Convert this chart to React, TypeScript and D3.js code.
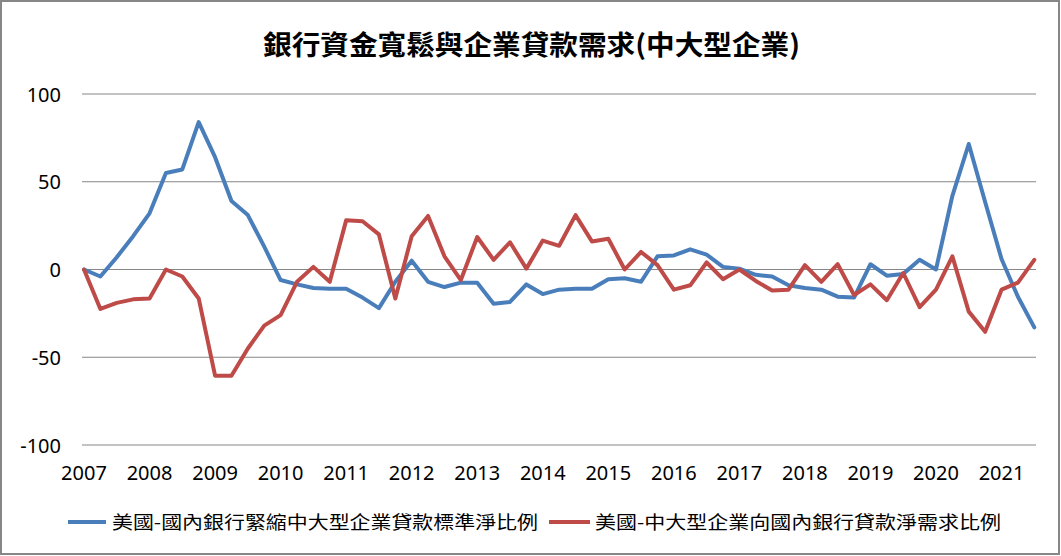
import React from "react";
import * as d3 from "d3";

const title = "銀行資金寬鬆與企業貸款需求(中大型企業)";
const yearLabels = ["2007","2008","2009","2010","2011","2012","2013","2014","2015","2016","2017","2018","2019","2020","2021"];
const quarters: string[] = [];
yearLabels.forEach((y) => ["Q1","Q2","Q3","Q4"].forEach((q) => quarters.push(y + q)));
const categories = quarters.slice(0, 59); // 2007Q1 .. 2021Q3

const seriesNames = [
  "美國-國內銀行緊縮中大型企業貸款標準淨比例",
  "美國-中大型企業向國內銀行貸款淨需求比例",
];

const tightening = [
  0, -4, 7, 19, 32, 55, 57, 84, 64, 39, 31, 13, -6, -8.5, -10.5, -11,
  -11, -16, -22, -7, 5, -7, -10, -7.5, -7.5, -19.5, -18.5, -8.5, -14, -11.5, -11, -11,
  -5.5, -5, -7, 7.5, 8, 11.5, 8.5, 1.5, 0.5, -3, -4, -9, -10.5, -11.5,
  -15.5, -16, 3, -3.5, -2.5, 5.5, 0, 42, 71.5, 38.5, 6, -15.5, -33,
];
const demand = [
  0, -22.5, -19, -17, -16.5, 0, -4, -16.5, -60.5, -60.5, -45, -32, -26, -7, 1.5, -7,
  28, 27.5, 20, -16.5, 19, 30.5, 7.5, -6, 18.5, 5.5, 15.5, 0.5, 16.5, 13.5, 31, 16,
  17.5, 0, 10, 2.5, -11.5, -9, 4, -5.5, 0, -6.5, -12, -11.5, 2.5, -7,
  3, -14.5, -8.5, -17.5, -2, -21.5, -11.5, 7.5, -24, -35.5, -11.5, -7.5, 5.5,
];
const yTicks = [100, 50, 0, -50, -100];
const colors = ["#4A7EBB", "#BE4B48"];

export default function App() {
  const W = 1061, H = 556;
  const x = d3.scaleLinear().domain([0, categories.length - 1]).range([84, 1034.3]);
  const y = d3.scaleLinear().domain([-100, 100]).range([445, 94]);
  const line = d3.line<number>().x((_, i) => x(i)).y((d) => y(d));
  const series = [tightening, demand];
  const numFont = "'Noto Sans', sans-serif";
  const cjkFont = "'Noto Sans CJK TC', sans-serif";
  return (
    <svg width={W} height={H} style={{ position: "fixed", left: 0, top: 0, background: "#fff" }}>
      <rect x={1} y={1} width={W - 3} height={H - 3} fill="#fff" stroke="#878787" strokeWidth={2} />
      <text x={263} y={43} dominantBaseline="central" fontFamily={cjkFont} fontWeight="bold" fontSize={27}
        textLength={537} lengthAdjust="spacingAndGlyphs" fill="#000">{title}</text>
      {yTicks.map((t) => (
        <g key={t}>
          <line x1={82} x2={1036} y1={y(t)} y2={y(t)} stroke="#868686" strokeWidth={1} />
          <text x={61} y={y(t)} textAnchor="end" dominantBaseline="central" fontFamily={numFont} fontSize={20} fill="#000">{t}</text>
        </g>
      ))}
      {yearLabels.map((lab, i) => (
        <text key={lab} x={x(i * 4)} y={472} textAnchor="middle" dominantBaseline="central"
          fontFamily={numFont} fontSize={20} fill="#000">{lab}</text>
      ))}
      {series.map((s, i) => (
        <path key={i} d={line(s) || ""} fill="none" stroke={colors[i]} strokeWidth={4}
          strokeLinejoin="round" strokeLinecap="round" />
      ))}
      <line x1={68} x2={106} y1={522} y2={522} stroke={colors[0]} strokeWidth={4} />
      <text x={112} y={521} dominantBaseline="central" fontFamily={cjkFont} fontSize={18}
        textLength={426} lengthAdjust="spacingAndGlyphs" fill="#000">{seriesNames[0]}</text>
      <line x1={549} x2={590} y1={522} y2={522} stroke={colors[1]} strokeWidth={4} />
      <text x={595} y={521} dominantBaseline="central" fontFamily={cjkFont} fontSize={18}
        textLength={406} lengthAdjust="spacingAndGlyphs" fill="#000">{seriesNames[1]}</text>
    </svg>
  );
}
